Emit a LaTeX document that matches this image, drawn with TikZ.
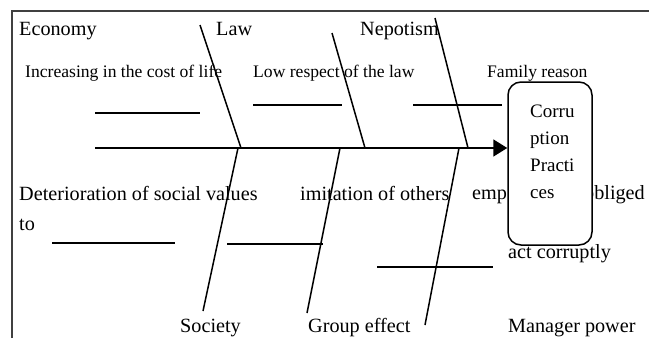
\documentclass[tikz,border=0pt]{standalone}
\usepackage{fontspec}
\setmainfont{Liberation Serif}
\usetikzlibrary{positioning, arrows.meta}

\begin{document}
\begin{tikzpicture}[x=1pt, y=-1pt,
	big/.style={anchor=base west, inner sep=0pt, font=\fontsize{20.2}{24}\selectfont},
	small/.style={anchor=base west, inner sep=0pt, font=\fontsize{17.6}{20}\selectfont},
	bone/.style={line width=1.5pt},
	rib/.style={line width=1.8pt},
	effect/.style={draw, rounded corners=13pt, line width=1.5pt, fill=white,
		minimum width=84pt, minimum height=163pt}]
	\useasboundingbox (0,0) rectangle (649,338);
	\draw[line width=1.5pt, black!75] (12,338) -- (12,11) -- (649,11);

	% causes
	\node (economy) [big] at (19,35) {Economy};
	\node (law) [big] at (216,35) {Law};
	\node (nepotism) [big] at (360,35) {Nepotism};
	\node (cost) [small] at (25,77) {Increasing in the cost of life};
	\node (respect) [small] at (253,77) {Low respect of the law};
	\node (family) [small] at (487,77) {Family reason};
	\node (values) [big] at (19,200) {Deterioration of social values};
	\node (to) [big] at (19,230) {to};
	\node (imitation) [big] at (300,200) {imitation of others};
	\node (emp) [big] at (472,199) {emp};
	\node (obliged) [big] at (584,199) {obliged};
	\node (act) [big] at (508,258) {act corruptly};
	\node (society) [big] at (180,332) {Society};
	\node (group) [big] at (308,332) {Group effect};
	\node (manager) [big] at (508,332) {Manager power};

	% bones
	\foreach \xa/\ya/\xb/\yb in {200/25/241/148, 332/33/365/148, 435/18/468/148,
		238/148/203/311, 340/148/307/313, 459/148/425/325}
		\draw[bone] (\xa,\ya) -- (\xb,\yb);
	\foreach \xa/\xb/\y in {95/200/113, 253/342/105, 413/502/105,
		52/175/243, 227/323/244, 377/493/267}
		\draw[rib] (\xa,\y) -- (\xb,\y);

	% effect
	\node (cp) [effect] at (550,163.5) {};
	\node (cptext) [anchor=base west, align=left, inner sep=0pt,
		font=\fontsize{19}{22}\selectfont] at (530,198)
		{Corru\\[5pt]ption\\[5pt]Practi\\[5pt]ces};
	\coordinate (tail) at (95,148);
	\draw[rib, -{Triangle[length=14pt, width=17pt]}] (tail) -- (tail -| cp.west);
\end{tikzpicture}
\end{document}
